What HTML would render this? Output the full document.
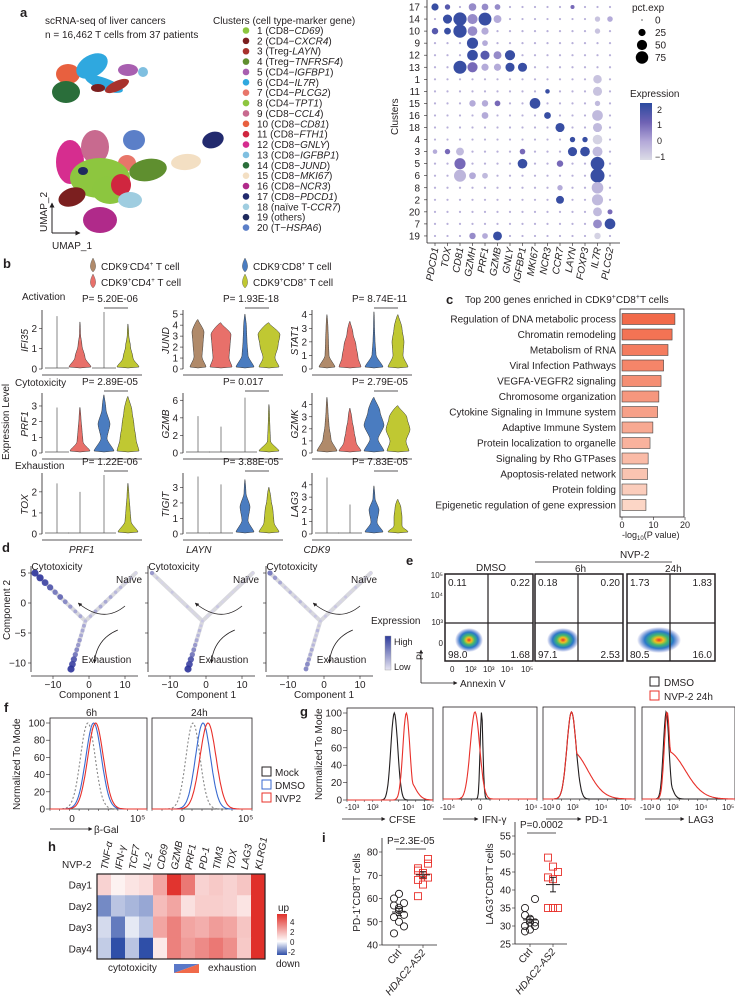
<!DOCTYPE html>
<html><head><meta charset="utf-8"><style>
html,body{margin:0;padding:0;background:#fff;}
svg{display:block;font-family:"Liberation Sans",Arial,sans-serif;}
text{fill:#231f20;}
.it{font-style:italic;}
</style></head><body>
<svg id="fig" width="735" height="996" viewBox="0 0 735 996" xmlns="http://www.w3.org/2000/svg">
<defs>
<linearGradient id="dotcb" x1="0" y1="1" x2="0" y2="0"><stop offset="0" stop-color="#dcdce6"/><stop offset="0.33" stop-color="#b3a8d8"/><stop offset="0.66" stop-color="#6f62b4"/><stop offset="1" stop-color="#2b4a9f"/></linearGradient>
<linearGradient id="trcb" x1="0" y1="1" x2="0" y2="0"><stop offset="0" stop-color="#e6e4f2"/><stop offset="1" stop-color="#2f3c9c"/></linearGradient>
<linearGradient id="hmcb" x1="0" y1="1" x2="0" y2="0"><stop offset="0" stop-color="#2f4fa8"/><stop offset="0.33" stop-color="#ffffff"/><stop offset="1" stop-color="#e0302a"/></linearGradient>
<radialGradient id="dens"><stop offset="0" stop-color="#e8302a"/><stop offset="0.2" stop-color="#f0c020"/><stop offset="0.4" stop-color="#40b870"/><stop offset="0.65" stop-color="#2a78c8"/><stop offset="1" stop-color="#3a50c0" stop-opacity="0"/></radialGradient>
<marker id="arr" viewBox="0 0 10 10" refX="9" refY="5" markerWidth="5" markerHeight="5" orient="auto"><path d="M0,0L10,5L0,10z" fill="#231f20"/></marker>
</defs>
<g font-size="10">
<text x="20" y="17" font-size="13" font-weight="bold">a</text>
<text x="3" y="268" font-size="13" font-weight="bold">b</text>
<text x="446" y="304" font-size="13" font-weight="bold">c</text>
<text x="2" y="552" font-size="13" font-weight="bold">d</text>
<text x="406" y="565" font-size="13" font-weight="bold">e</text>
<text x="4" y="712" font-size="13" font-weight="bold">f</text>
<text x="300" y="716" font-size="13" font-weight="bold">g</text>
<text x="48" y="851" font-size="13" font-weight="bold">h</text>
<text x="322" y="842" font-size="13" font-weight="bold">i</text>

<text x="45" y="24">scRNA-seq of liver cancers</text>
<text x="45" y="38">n = 16,462 T cells from 37 patients</text>
<text x="213" y="24">Clusters (cell type-marker gene)</text>
<g id="umap"></g>
<g id="clegend"></g>
<line x1="52" y1="233" x2="52" y2="203" stroke="#231f20" marker-end="url(#arr)"/>
<line x1="52" y1="233" x2="80" y2="233" stroke="#231f20" marker-end="url(#arr)"/>
<text x="52" y="249">UMAP_1</text>
<text transform="translate(47,232) rotate(-90)">UMAP_2</text>

<g id="dotplot"></g>
<text transform="translate(398,135) rotate(-90)">Clusters</text>
<text x="632" y="11">pct.exp</text>
<g id="pctleg"></g>
<text x="630" y="97">Expression</text>
<rect x="640" y="103" width="12" height="57" fill="url(#dotcb)"/>
<text x="657" y="113" font-size="9">2</text>
<text x="657" y="128" font-size="9">1</text>
<text x="657" y="144" font-size="9">0</text>
<text x="655" y="160" font-size="9">−1</text>

<g id="blegend">
<path d="M93,258 C90,264 89,268 93,272 C97,268 96,264 93,258Z" fill="#b08a6a" stroke="#555" stroke-width=".4"/>
<text x="101" y="270">CDK9<tspan font-size="6" dy="-4">-</tspan><tspan dy="4">CD4</tspan><tspan font-size="6" dy="-4">+</tspan><tspan dy="4"> T cell</tspan></text>
<path d="M93,274 C90,280 89,284 93,288 C97,284 96,280 93,274Z" fill="#e8706a" stroke="#555" stroke-width=".4"/>
<text x="101" y="286">CDK9<tspan font-size="6" dy="-4">+</tspan><tspan dy="4">CD4</tspan><tspan font-size="6" dy="-4">+</tspan><tspan dy="4"> T cell</tspan></text>
<path d="M245,258 C242,264 241,268 245,272 C249,268 248,264 245,258Z" fill="#4a7cc0" stroke="#555" stroke-width=".4"/>
<text x="253" y="270">CDK9<tspan font-size="6" dy="-4">-</tspan><tspan dy="4">CD8</tspan><tspan font-size="6" dy="-4">+</tspan><tspan dy="4"> T cell</tspan></text>
<path d="M245,274 C242,280 241,284 245,288 C249,284 248,280 245,274Z" fill="#c0c832" stroke="#555" stroke-width=".4"/>
<text x="253" y="286">CDK9<tspan font-size="6" dy="-4">+</tspan><tspan dy="4">CD8</tspan><tspan font-size="6" dy="-4">+</tspan><tspan dy="4"> T cell</tspan></text>
</g>
<text x="22" y="300">Activation</text>
<text x="15" y="386">Cytotoxicity</text>
<text x="15" y="469">Exhaustion</text>
<text transform="translate(9,460) rotate(-90)">Expression Level</text>
<g id="violins"></g>

<text x="465" y="303">Top 200 genes enriched in CDK9<tspan font-size="7" dy="-4">+</tspan><tspan dy="4">CD8</tspan><tspan font-size="7" dy="-4">+</tspan><tspan dy="4">T cells</tspan></text>
<g id="barc"></g>
<text x="622" y="538" font-size="9">-log<tspan font-size="6" dy="2">10</tspan><tspan dy="-2">(P value)</tspan></text>

<g id="traj"></g>
<text x="371" y="624">Expression</text>
<rect x="385" y="636" width="6" height="34" fill="url(#trcb)" stroke="#999" stroke-width=".4"/>
<text x="394" y="645" font-size="9">High</text>
<text x="394" y="670" font-size="9">Low</text>
<text transform="translate(10,640) rotate(-90)">Component 2</text>

<g id="flow"></g>
<text x="476" y="571">DMSO</text>
<text x="620" y="558">NVP-2</text>
<line x1="535" y1="562" x2="672" y2="562" stroke="#231f20" stroke-width=".8"/>
<text x="575" y="572">6h</text>
<text x="665" y="572">24h</text>
<line x1="421" y1="683" x2="421" y2="650" stroke="#231f20" stroke-width=".8" marker-end="url(#arr)"/>
<line x1="421" y1="683" x2="457" y2="683" stroke="#231f20" stroke-width=".8" marker-end="url(#arr)"/>
<text transform="translate(423,660) rotate(-90)" font-size="9">PI</text>
<text x="460" y="687">Annexin V</text>
<rect x="650" y="677" width="9" height="9" fill="none" stroke="#231f20"/>
<text x="664" y="686">DMSO</text>
<rect x="650" y="691" width="9" height="9" fill="none" stroke="#e8302a"/>
<text x="664" y="700">NVP-2 24h</text>

<g id="hists"></g>
<text x="86" y="716">6h</text>
<text x="191" y="716">24h</text>
<text transform="translate(20,810) rotate(-90)">Normalized To Mode</text>
<line x1="50" y1="829" x2="92" y2="829" stroke="#231f20" stroke-width=".8" marker-end="url(#arr)"/>
<text x="94" y="833">β-Gal</text>
<rect x="262" y="767" width="9" height="9" fill="none" stroke="#231f20"/>
<text x="275" y="776">Mock</text>
<rect x="262" y="780" width="9" height="9" fill="none" stroke="#3a6ad0"/>
<text x="275" y="789">DMSO</text>
<rect x="262" y="793" width="9" height="9" fill="none" stroke="#e8302a"/>
<text x="275" y="802">NVP2</text>
<text transform="translate(322,800) rotate(-90)">Normalized To Mode</text>

<g id="heat"></g>
<text x="62" y="868">NVP-2</text>
<rect x="277" y="914" width="10" height="41" fill="url(#hmcb)"/>
<text x="278" y="911">up</text>
<text x="276" y="967">down</text>
<text x="290" y="925" font-size="8">4</text>
<text x="290" y="935" font-size="8">2</text>
<text x="290" y="945" font-size="8">0</text>
<text x="288" y="955" font-size="8">-2</text>
<text x="108" y="971">cytotoxicity</text>
<polygon points="174,964 199,964 174,973" fill="#5a78c8"/>
<polygon points="199,964 199,973 174,973" fill="#f06a4a"/>
<text x="208" y="971">exhaustion</text>

<g id="scat"></g>
</g>
</svg>
<script>
const NS='http://www.w3.org/2000/svg';
function mk(tag,parent,attrs){const e=document.createElementNS(NS,tag);for(const k in attrs)e.setAttribute(k,attrs[k]);parent.appendChild(e);return e;}
function tx(parent,x,y,s,attrs){const e=mk('text',parent,Object.assign({x:x,y:y},attrs||{}));e.textContent=s;return e;}

const clusterColors=['#8cc63f','#7b1f1f','#a8322d','#5f8f2f','#a85fb0','#2fa8df','#e8766a','#8dc63f','#c86a8f','#e8603f','#d0263f','#d62d8f','#7fbfe0','#2a6e3a','#f3dfc3','#b02a8a','#222a6e','#9fcde0','#1f2a5e','#5b7fc8'];
const clusterNames=['1 (CD8−','2 (CD4−','3 (Treg-','4 (Treg−','5 (CD4−','6 (CD4−','7 (CD4−','8 (CD4−','9 (CD8−','10 (CD8−','11 (CD8−','12 (CD8−','13 (CD8−','14 (CD8−','15 (CD8−','16 (CD8−','17 (CD8−','18 (naïve T-','19 (others)','20 (T−'];
const clusterGenes=['CD69','CXCR4','LAYN','TNFRSF4','IGFBP1','IL7R','PLCG2','TPT1','CCL4','CD81','FTH1','GNLY','IGFBP1','JUND','MKI67','NCR3','PDCD1','CCR7','','HSPA6'];
const blobCluster=[10,6,6,14,5,13,3,2,12,9,20,7,4,8,1,11,2,18,16,17,15,19];
const blobX=[68,92,104,66,128,143,117,98,70,95,134,127,148,100,110,121,72,130,100,213,186,83];
const blobY=[74,66,84,92,70,72,86,88,162,147,140,163,170,178,190,185,197,200,220,140,162,171];
const blobRX=[12,17,20,14,10,5,13,7,14,14,11,9,19,30,18,10,14,12,17,11,15,5];
const blobRY=[10,11,6,11,6,5,5,4,22,17,10,8,11,20,14,11,9,8,13,8,8,4];
const blobRot=[0,-30,20,0,0,0,-25,0,0,0,0,0,-10,0,0,0,-20,0,0,-20,-5,0];
const umap=document.getElementById('umap');
blobCluster.forEach((c,i)=>{
  const e=mk('ellipse',umap,{cx:blobX[i],cy:blobY[i],rx:blobRX[i],ry:blobRY[i],fill:clusterColors[c-1],transform:`rotate(${blobRot[i]} ${blobX[i]} ${blobY[i]})`});
  
  
});
const cl=document.getElementById('clegend');
clusterNames.forEach((n,i)=>{
  const y=34+i*10.37;
  const d=mk('circle',cl,{cx:246,cy:y-3.5,r:3.3,fill:clusterColors[i]});
  
  
  const t=mk('text',cl,{x:257,y:y});
  
  
  t.appendChild(document.createTextNode(n));
  if(clusterGenes[i]){const s=mk('tspan',t,{class:'it'});s.textContent=clusterGenes[i];t.appendChild(document.createTextNode(')'));}
});

const dotGenes=['PDCD1','TOX','CD81','GZMH','PRF1','GZMB','GNLY','IGFBP1','MKI67','NCR3','CCR7','LAYN','FOXP3','IL7R','PLCG2'];
const dotClusters=['17','14','10','9','12','13','1','11','15','16','18','4','3','5','6','8','2','20','7','19'];
const dotRow=[0,0,0,0,0,0,1,1,1,1,1,1,1,2,2,2,2,2,2,3,3,4,4,4,4,5,5,5,5,5,5,6,7,7,8,8,8,8,8,9,9,9,10,10,11,11,11,12,12,12,12,12,12,12,13,13,13,13,14,14,14,14,15,15,16,16,17,17,18,18,19,19,19,19];
const dotGene=[0,1,3,4,5,11,1,2,3,4,5,13,14,0,1,2,3,4,13,3,4,3,4,5,6,2,3,4,5,6,7,13,9,13,3,4,5,8,13,4,9,13,10,13,11,12,13,1,2,7,11,12,13,0,2,7,10,13,2,3,4,13,10,13,10,13,13,14,13,14,3,4,5,13];
const dotPct=[25,14,28,22,16,8,40,85,50,80,30,14,15,20,22,85,45,25,14,60,16,55,40,30,50,82,50,25,25,40,40,35,10,40,20,20,16,55,14,22,22,55,40,40,14,14,45,14,30,15,40,45,48,10,60,45,20,90,70,22,16,95,14,65,30,60,38,12,38,55,20,16,38,20];
const dotExpr=[2,1.5,0.5,0.5,0.5,1,2,2,0.5,2,0,-0.5,0,1.5,2,2,0.5,0,-0.5,2,0,2,1.5,0.5,2,2,1,0,0,2,2,-0.5,2,-0.5,0,0,1,2,-0.3,0,2,-0.3,2,-0.3,2,2,-0.8,1,-0.3,1,2,2,-0.3,0,1,2,1,2,-0.2,0,-0.3,2,0,-0.2,2,-0.3,-0.3,1,0.5,2,0.5,0,2,-0.8];
const dp=document.getElementById('dotplot');
const xg=i=>435+i*12.5, yc=j=>7+j*12.05;
function dcol(v){v=Math.max(-1,Math.min(2.2,v));const t=(v+1)/3.2;
  const a=[220,220,230],b=[178,168,216],c=[112,98,180],d=[43,74,159];
  let p,q,f; if(t<.33){p=a;q=b;f=t/.33}else if(t<.66){p=b;q=c;f=(t-.33)/.33}else{p=c;q=d;f=Math.min(1,(t-.66)/.34)}
  return `rgb(${p.map((x,k)=>Math.round(x+(q[k]-x)*f)).join(',')})`;}
const rr=p=>0.72*Math.sqrt(p);
dotClusters.forEach((c,j)=>{dotGenes.forEach((g,i)=>{
  const e=mk('circle',dp,{cx:xg(i),cy:yc(j),r:1.1,fill:'#b8b0da'});
  
  
});});
dotRow.forEach((r,k)=>{
  const e=mk('circle',dp,{cx:xg(dotGene[k]),cy:yc(r),r:rr(dotPct[k]),fill:dcol(dotExpr[k])});
  
  
});
mk('line',dp,{x1:427,y1:0,x2:427,y2:243,stroke:'#231f20','stroke-width':.8});
mk('line',dp,{x1:427,y1:243,x2:620,y2:243,stroke:'#231f20','stroke-width':.8});
dotClusters.forEach((c,j)=>{const t=tx(dp,420,yc(j)+3.5,c,{'text-anchor':'end'});
  
  
  mk('line',dp,{x1:424,y1:yc(j),x2:427,y2:yc(j),stroke:'#231f20','stroke-width':.6});});
dotGenes.forEach((g,i)=>{const t=tx(dp,0,0,g,{class:'it','text-anchor':'end',transform:`translate(${xg(i)+3.5},248) rotate(-80)`});
  
  
  mk('line',dp,{x1:xg(i),y1:243,x2:xg(i),y2:246,stroke:'#231f20','stroke-width':.6});});
const pctVals=[0,25,50,75];
const pl=document.getElementById('pctleg');
pctVals.forEach((p,i)=>{const y=20+i*12.5;
  const c=mk('circle',pl,{cx:642,cy:y,r:Math.max(0.6,rr(p)),fill:'#000'});
  
  
  tx(pl,655,y+3.5,String(p));});

const vGenes=['IFI35','JUND','STAT1','PRF1','GZMB','GZMK','TOX','TIGIT','LAG3'];
const vYmax=[2.8,5.2,4.2,3.7,6.6,4.8,2.8,3.8,4.8];
const vTicks=[[0,1,2],[0,1,2,3,4,5],[0,1,2,3,4],[0,1,2,3],[0,2,4,6],[0,1,2,3,4],[0,1,2],[0,1,2,3],[0,1,2,3,4]];
const vTop=[[2.6,2.3,2.8,2.2],[4.5,4.2,5.0,4.2],[4.0,3.5,4.2,4.0],[2.9,2.9,3.7,3.6],[4.2,3.0,6.3,5.5],[4.6,3.7,4.6,3.9],[2.4,2.0,2.8,2.4],[3.7,3.2,3.5,3.0],[4.6,2.4,3.9,2.8]];
const vW=[
 [[12,.3,.3,.3],[11,5,2,.5],[12,.3,.3,.3],[11,5,2.5,.8]],
 [[8,4,5,6],[11,8,9,10],[9,3,2,1.5],[10,6,9,11]],
 [[8,2,1.5,1],[11,8,6,3],[9,2,1,.5],[10,5,6,4]],
 [[12,.3,.3,.3],[10,3,2,1],[10,3,6,2],[11,8,6,4]],
 [[12,.3,.3,.3],[12,.3,.3,.3],[12,.6,.4,.3],[10,1.5,1,.6]],
 [[10,4,2,1],[11,6,4,2],[10,4,10,6],[11,8,12,9]],
 [[12,.3,.3,.3],[12,.3,.3,.3],[12,.3,.3,.3],[10,3,2,1]],
 [[12,.3,.3,.3],[12,.3,.3,.3],[9,3,5,1],[10,5,4,2]],
 [[12,.3,.3,.3],[12,.3,.3,.3],[9,3,5,1],[10,4,4,3]]];
const vP=['P= 5.20E-06','P= 1.93E-18','P= 8.74E-11','P= 2.89E-05','P= 0.017','P= 2.79E-05','P= 1.22E-06','P= 3.88E-05','P= 7.83E-05'];
const vColors=['#b08a6a','#e8706a','#4a7cc0','#c0c832'];
const vAxisX=[42,183,312], vRowTop=[312,395,475], vRowBot=[369,453,534], vOff=[15,38,62,86];
const vg=document.getElementById('violins');
vGenes.forEach((g,p)=>{
  const col=p%3,row=Math.floor(p/3),ax=vAxisX[col],top=vRowTop[row],bot=vRowBot[row];
  const ys=v=>bot-v/vYmax[p]*(bot-top);
  mk('line',vg,{x1:ax,y1:top-2,x2:ax,y2:bot,stroke:'#231f20','stroke-width':.8});
  mk('line',vg,{x1:ax,y1:bot+6,x2:ax+100,y2:bot+6,stroke:'#231f20','stroke-width':.8});
  vTicks[p].forEach(t=>{mk('line',vg,{x1:ax-3,y1:ys(t),x2:ax,y2:ys(t),stroke:'#231f20','stroke-width':.6});tx(vg,ax-5,ys(t)+3.5,String(t),{'text-anchor':'end'});});
  const lab=tx(vg,0,0,g,{class:'it','text-anchor':'middle',transform:`translate(${ax-14},${(top+bot)/2}) rotate(-90)`});
  
  
  vTop[p].forEach((tp,k)=>{
    const cx=ax+vOff[k],w=vW[p][k],b0=bot-1;
    const yt=ys(tp);
    if(w[1]<1){
      const e=mk('path',vg,{d:`M${cx-w[0]},${b0} L${cx+w[0]},${b0} M${cx},${b0} L${cx},${yt}`,fill:'none',stroke:'#555','stroke-width':.7});
      
      
      return;
    }
    const lv=[0,.25,.5,.75].map(f=>ys(f*tp));lv[0]=b0;
    let d=`M${cx},${b0} L${cx+w[0]},${b0-1} C${cx+w[0]},${b0-3} ${cx+w[1]},${lv[1]+3} ${cx+w[1]},${lv[1]} S${cx+w[2]},${lv[2]+3} ${cx+w[2]},${lv[2]} S${cx+w[3]},${lv[3]+3} ${cx+w[3]},${lv[3]} S${cx+0.3},${yt+2} ${cx},${yt} `;
    d+=`S${cx-w[3]},${lv[3]-3} ${cx-w[3]},${lv[3]} S${cx-w[2]},${lv[2]-3} ${cx-w[2]},${lv[2]} S${cx-w[1]},${lv[1]-3} ${cx-w[1]},${lv[1]} S${cx-w[0]},${b0-3} ${cx-w[0]},${b0-1} Z`;
    const e=mk('path',vg,{d:d,fill:vColors[k],stroke:'#333','stroke-width':.5});
    
    
  });
  const pt=tx(vg,ax+40,top-10,vP[p]);
  
  
  mk('line',vg,{x1:ax+vOff[2],y1:top-4,x2:ax+vOff[3],y2:top-4,stroke:'#231f20','stroke-width':.8});
});

const cTerms=['Regulation of DNA metabolic process','Chromatin remodeling','Metabolism of RNA','Viral Infection Pathways','VEGFA-VEGFR2 signaling','Chromosome organization','Cytokine Signaling in Immune system','Adaptive Immune System','Protein localization to organelle','Signaling by Rho GTPases','Apoptosis-related network','Protein folding','Epigenetic regulation of gene expression'];
const cValues=[16.8,15.9,14.6,13.2,12.4,11.7,11.3,9.8,8.9,8.3,8.1,7.9,7.6];
const cTicks=[0,10,20];
const bc=document.getElementById('barc');
const cx0=622,cs=3.15,cy=j=>319+j*15.5;
mk('rect',bc,{x:620,y:309,width:64,height:208,fill:'none',stroke:'#231f20','stroke-width':.8});
cTerms.forEach((t,j)=>{
  const f=j/(cTerms.length-1);
  const col=`rgb(${Math.round(242+(252-242)*f)},${Math.round(106+(214-106)*f)},${Math.round(74+(198-74)*f)})`;
  const r=mk('rect',bc,{x:cx0,y:cy(j)-5.5,width:cValues[j]*cs,height:11,fill:col,stroke:'#444','stroke-width':.6});
  
  
  const l=tx(bc,616,cy(j)+3.5,t,{'text-anchor':'end'});
  
  
});
cTicks.forEach(t=>{const x=cx0+t*cs;mk('line',bc,{x1:x,y1:517,x2:x,y2:520,stroke:'#231f20','stroke-width':.6});tx(bc,x,528,String(t),{'text-anchor':'middle','font-size':9});});

const trGenes=['PRF1','LAYN','CDK9'];
const armLeft=[[-15,5],[-1,-3]], armRight=[[13,5],[-1,-3]], armDown=[[-1,-3],[-5,-11]];
const exprLeft=[[1,1,.9,.8,.6,.7,.5,.4,.3,.3,.2],[.4,.1,0,0,.1,0,0,.1,0,0,0],[.6,.4,.3,.1,.2,.1,.2,.1,.1,.1,0]];
const exprRight=[[0,.1,.1,.2,.2,.3,.3,.3,.3,.2,.2],[0,0,0,0,0,0,0,.1,0,0,.1],[0,0,0,.1,0,.1,0,.1,0,.1,.1]];
const exprDown=[[.2,.3,.3,.3,.4,.4,.5,.6,.8,.9,1],[.1,.1,.2,.2,.3,.4,.5,.6,.8,.9,1],[.1,.1,.2,.1,.2,.2,.3,.3,.4,.5,.5]];
const tr=document.getElementById('traj');
const trOff=[0,117,235];
trGenes.forEach((g,p)=>{
  const o=trOff[p], X=v=>89+o+v*3.6, Y=v=>603-v*6;
  mk('line',tr,{x1:31+o,y1:566,x2:31+o,y2:672,stroke:'#231f20','stroke-width':.8});
  mk('line',tr,{x1:31+o,y1:676,x2:138+o,y2:676,stroke:'#231f20','stroke-width':.8});
  [-10,0,10].forEach(v=>{mk('line',tr,{x1:X(v),y1:676,x2:X(v),y2:679,stroke:'#231f20','stroke-width':.6});tx(tr,X(v),688,v===-10?'−10':String(v),{'text-anchor':'middle'});});
  if(p===0)[5,0,-5,-10].forEach(v=>{mk('line',tr,{x1:28,y1:Y(v),x2:31,y2:Y(v),stroke:'#231f20','stroke-width':.6});tx(tr,26,Y(v)+3.5,v<0?'−'+(-v):String(v),{'text-anchor':'end'});});
  else [5,0,-5,-10].forEach(v=>mk('line',tr,{x1:28+o,y1:Y(v),x2:31+o,y2:Y(v),stroke:'#231f20','stroke-width':.6}));
  const ttl=tx(tr,X(-2),553,g,{class:'it','text-anchor':'middle'});
  
  
  tx(tr,X(0),698,'Component 1',{'text-anchor':'middle'});
  [[armLeft,exprLeft],[armRight,exprRight],[armDown,exprDown]].forEach(([arm,ex],ai)=>{
    mk('line',tr,{x1:X(arm[0][0]),y1:Y(arm[0][1]),x2:X(arm[1][0]),y2:Y(arm[1][1]),stroke:'#d8d8de','stroke-width':4,'stroke-linecap':'round'});
    ex[p].forEach((v,i)=>{const t=i/10;
      const px=X(arm[0][0]+(arm[1][0]-arm[0][0])*t),py=Y(arm[0][1]+(arm[1][1]-arm[0][1])*t);
      const e=mk('circle',tr,{cx:px,cy:py,r:1.2+v*2.4,fill:`rgb(${Math.round(215-170*v)},${Math.round(212-160*v)},${Math.round(235-80*v)})`,opacity:.9});
      
      });
  });
  tx(tr,X(-16),570,'Cytotoxicity');
  tx(tr,X(7.5),583,'Naïve');
  tx(tr,X(-2),663,'Exhaustion');
  mk('path',tr,{d:`M${X(10)},${Y(-0.5)} Q${X(4)},${Y(-3.5)} ${X(-3)},${Y(0)}`,fill:'none',stroke:'#231f20','stroke-width':.8,'marker-end':'url(#arr)'});
  mk('path',tr,{d:`M${X(8)},${Y(-4.5)} Q${X(2)},${Y(-6)} ${X(1.5)},${Y(-10)}`,fill:'none',stroke:'#231f20','stroke-width':.8,'marker-end':'url(#arr)'});
});

const flowQ=[['0.11','0.22','98.0','1.68'],['0.18','0.20','97.1','2.53'],['1.73','1.83','80.5','16.0']];
const flowCenterX=[24,28,32], flowSpreadX=[14,16,22], flowSpreadY=[12,12,13];
const fl=document.getElementById('flow');
const fx=[445,535,627];
fx.forEach((x,i)=>{
  const e=mk('ellipse',fl,{cx:x+flowCenterX[i],cy:640,rx:flowSpreadX[i],ry:flowSpreadY[i],fill:'url(#dens)'});
  
  
  const b=mk('rect',fl,{x:x,y:574,width:88,height:87,fill:'none',stroke:'#231f20','stroke-width':1.5});
  
  
  mk('line',fl,{x1:x+43,y1:574,x2:x+43,y2:661,stroke:'#231f20','stroke-width':1.2});
  mk('line',fl,{x1:x,y1:623,x2:x+88,y2:623,stroke:'#231f20','stroke-width':1.2});
  tx(fl,x+3,586,flowQ[i][0]);tx(fl,x+85,586,flowQ[i][1],{'text-anchor':'end'});
  tx(fl,x+3,658,flowQ[i][2]);tx(fl,x+85,658,flowQ[i][3],{'text-anchor':'end'});
});
[['10⁵',578],['10⁴',598],['10³',625],['0',646]].forEach(([s,y])=>tx(fl,443,y,s,{'text-anchor':'end','font-size':8}));
[['0',450],['10²',465],['10³',483],['10⁴',501],['10⁵',521]].forEach(([s,x])=>tx(fl,x,672,s,{'font-size':8}));

const histMean=[[.39,.45,.47],[.41,.51,.56],[.55,.69],[.41,.34],[.31,.31],[.26,.27]];
const histSd=[[.075,.08,.08],[.07,.075,.08],[.04,.04],[.015,.05],[.05,.05],[.03,.03]];
const histTail=[[0,0,0],[0,0,0],[0,.25],[0,0],[0,.5],[.15,.55]];
const histColors=[['#888','#3a6ad0','#e8302a'],['#888','#3a6ad0','#e8302a'],['#231f20','#e8302a'],['#231f20','#e8302a'],['#231f20','#e8302a'],['#231f20','#e8302a']];
const histX0=[50,152,347,443,543,642], histX1=[147,252,433,537,635,735], histTop=[723,723,713,712,712,712], histBot=[809,809,800,799,799,799];
const hs=document.getElementById('hists');
histMean.forEach((ms,p)=>{
  const x0=histX0[p],x1=histX1[p],t=histTop[p],b=histBot[p];
  const fr=mk('rect',hs,{x:x0,y:t-5,width:x1-x0,height:b-t+5,fill:'none',stroke:'#231f20','stroke-width':.8});
  
  
  for(let k=0;k<=10;k++)mk('line',hs,{x1:x0+(x1-x0)*k/10,y1:b,x2:x0+(x1-x0)*k/10,y2:b+2,stroke:'#231f20','stroke-width':.5});
  ms.forEach((m,s)=>{
    const sd=histSd[p][s],tl=histTail[p][s];let d='';
    for(let i=0;i<=120;i++){const f=i/120;let v=Math.exp(-((f-m)**2)/(2*sd*sd));
      if(tl>0&&f>m)v=Math.max(v,Math.exp(-((f-m)**2)/(2*(tl*0.35)**2))*0.55*(tl>.3?1:0.5));
      d+=(i?'L':'M')+(x0+f*(x1-x0)).toFixed(1)+','+(b-v*(b-t)).toFixed(1);}
    const e=mk('path',hs,{d:d,fill:'none',stroke:histColors[p][s],'stroke-width':1.1,'stroke-dasharray':(p<2&&s===0)?'2,2':'none'});
    
    
  });
});
[0,20,40,60,80,100].forEach(v=>{const y=809-v*0.86;mk('line',hs,{x1:46,y1:y,x2:50,y2:y,stroke:'#231f20','stroke-width':.6});tx(hs,45,y+3.5,String(v),{'text-anchor':'end'});
  const y2=800-v*0.87;mk('line',hs,{x1:343,y1:y2,x2:347,y2:y2,stroke:'#231f20','stroke-width':.6});tx(hs,342,y2+3.5,String(v),{'text-anchor':'end'});});
tx(hs,72,822,'0',{'text-anchor':'middle'});tx(hs,130,822,'10⁵');tx(hs,182,822,'0',{'text-anchor':'middle'});tx(hs,238,822,'10⁵');
[['-10³',345],['10³',367],['10⁴',402],['10⁵',422],['-10⁴',440],['0',478],['10⁴',525],['-10³',540],['0',556],['10³',567],['10⁴',595],['10⁵',620],['-10³',640],['0',656],['10³',667],['10⁴',695],['10⁵',722]].forEach(([s,x])=>tx(hs,x,810,s,{'font-size':8}));
[['CFSE',342,389],['IFN-γ',443,482],['PD-1',546,585],['LAG3',645,688]].forEach(([s,a,x])=>{
  mk('line',hs,{x1:a,y1:819,x2:x-4,y2:819,stroke:'#231f20','stroke-width':.8,'marker-end':'url(#arr)'});
  const l=tx(hs,x,823,s);
  
  });

const hmGenes=['TNF-α','IFN-γ','TCF7','IL-2','CD69','GZMB','PRF1','PD-1','TIM3','TOX','LAG3','KLRG1'];
const hmDays=['Day1','Day2','Day3','Day4'];
const hmValues=[[1,0.3,0.6,0.8,2,4.5,3,1,1.2,1,1.3,5],[-1.6,-0.8,-1,-1.2,1.5,2,0.7,1.1,1.1,1,0.6,5],[-0.5,-1.8,-0.3,-0.8,2,2.8,2,1.8,2.2,2,1.3,5],[-0.7,-2.4,-0.8,-2.4,0.5,2.8,2.2,2.6,3,2.5,1.2,5]];
const hm=document.getElementById('heat');
const hx0=97,hy0=874,cw=14,ch=21.25;
function hcol(v){if(v<0){const f=Math.min(1,-v/2.4);return `rgb(${Math.round(255-(255-47)*f)},${Math.round(255-(255-79)*f)},${Math.round(255-(255-168)*f)})`;}
  const f=Math.min(1,v/4.6);return `rgb(${Math.round(255-(255-224)*f)},${Math.round(255-(255-48)*f)},${Math.round(255-(255-42)*f)})`;}
hmDays.forEach((d,r)=>{hmGenes.forEach((g,c)=>{
  const e=mk('rect',hm,{x:hx0+c*cw,y:hy0+r*ch,width:cw+.3,height:ch+.3,fill:hcol(hmValues[r][c])});
  
  });
  const l=tx(hm,92,hy0+r*ch+ch/2+4,d,{'text-anchor':'end'});
  
  });
hmGenes.forEach((g,c)=>{const l=tx(hm,0,0,g,{class:'it',transform:`translate(${hx0+c*cw+cw/2+3.5},870) rotate(-80)`});
  
  });
mk('rect',hm,{x:hx0,y:hy0,width:cw*12,height:ch*4,fill:'none',stroke:'#231f20','stroke-width':1.2});

const iCtrlPD1=[57,55,53,52,50,58,60,62,48,45,56];
const iHdacPD1=[72,70,75,68,66,77,73,71,69,61,70];
const iCtrlLAG3=[30,29,31,33,32,37.5,35,31,30,28.5];
const iHdacLAG3=[49,46.5,45,43.5,43,35,35,35];
const iPlots=[{ctrl:iCtrlPD1,hd:iHdacPD1,ax:382,xEnd:437,ymin:40,ymax:80,yb:945,yt:852,ticks:[40,50,60,70,80],p:'P=2.3E-05',lab:'PD-1',xc:399,xh:423},
 {ctrl:iCtrlLAG3,hd:iHdacLAG3,ax:515,xEnd:567,ymin:25,ymax:55,yb:944,yt:836,ticks:[25,30,35,40,45,50,55],p:'P=0.0002',lab:'LAG3',xc:530,xh:553}];
const sc=document.getElementById('scat');
iPlots.forEach((P,pi)=>{
  const ys=v=>P.yb-(v-P.ymin)/(P.ymax-P.ymin)*(P.yb-P.yt);
  mk('line',sc,{x1:P.ax,y1:P.yt-14,x2:P.ax,y2:P.yb,stroke:'#231f20','stroke-width':.8});
  mk('line',sc,{x1:P.ax,y1:P.yb,x2:P.xEnd,y2:P.yb,stroke:'#231f20','stroke-width':.8});
  P.ticks.forEach(t=>{mk('line',sc,{x1:P.ax-3,y1:ys(t),x2:P.ax,y2:ys(t),stroke:'#231f20','stroke-width':.6});tx(sc,P.ax-4,ys(t)+3.5,String(t),{'text-anchor':'end'});});
  const yl=tx(sc,0,0,'',{'text-anchor':'middle',transform:`translate(${P.ax-22},${(P.yt+P.yb)/2-6}) rotate(-90)`});
  yl.innerHTML=P.lab+'<tspan font-size="6" dy="-4">+</tspan><tspan dy="4">CD8</tspan><tspan font-size="6" dy="-4">+</tspan><tspan dy="4">T cells</tspan>';
  
  
  const pt=tx(sc,P.ax+5,P.yt-8,P.p);
  
  
  mk('line',sc,{x1:P.xc-3,y1:P.yt-3,x2:P.xh+3,y2:P.yt-3,stroke:'#231f20','stroke-width':.8});
  P.ctrl.forEach((v,i)=>{const e=mk('circle',sc,{cx:P.xc+((i%3)-1)*5,cy:ys(v),r:3.6,fill:'none',stroke:'#231f20','stroke-width':.9});
    
    });
  P.hd.forEach((v,i)=>{const e=mk('rect',sc,{x:P.xh+((i%3)-1)*5-3.5,y:ys(v)-3.5,width:7,height:7,fill:'none',stroke:'#e8302a','stroke-width':.9});
    
    });
  [[P.ctrl,P.xc],[P.hd,P.xh]].forEach(([arr,x])=>{const m=arr.reduce((a,b)=>a+b,0)/arr.length;
    const sd=Math.sqrt(arr.reduce((a,b)=>a+(b-m)**2,0)/(arr.length-1))/Math.sqrt(arr.length);
    mk('line',sc,{x1:x-7,y1:ys(m),x2:x+7,y2:ys(m),stroke:'#231f20','stroke-width':1});
    mk('line',sc,{x1:x,y1:ys(m-sd),x2:x,y2:ys(m+sd),stroke:'#231f20','stroke-width':1});
    mk('line',sc,{x1:x-3,y1:ys(m-sd),x2:x+3,y2:ys(m-sd),stroke:'#231f20','stroke-width':1});
    mk('line',sc,{x1:x-3,y1:ys(m+sd),x2:x+3,y2:ys(m+sd),stroke:'#231f20','stroke-width':1});});
  mk('line',sc,{x1:P.xc,y1:P.yb,x2:P.xc,y2:P.yb+3,stroke:'#231f20','stroke-width':.6});
  mk('line',sc,{x1:P.xh,y1:P.yb,x2:P.xh,y2:P.yb+3,stroke:'#231f20','stroke-width':.6});
  tx(sc,0,0,'Ctrl',{'text-anchor':'end',transform:`translate(${P.xc+3},${P.yb+8}) rotate(-50)`});
  tx(sc,0,0,'HDAC2-AS2',{class:'it','text-anchor':'end',transform:`translate(${P.xh+3},${P.yb+8}) rotate(-50)`});
});
</script>
</body></html>
